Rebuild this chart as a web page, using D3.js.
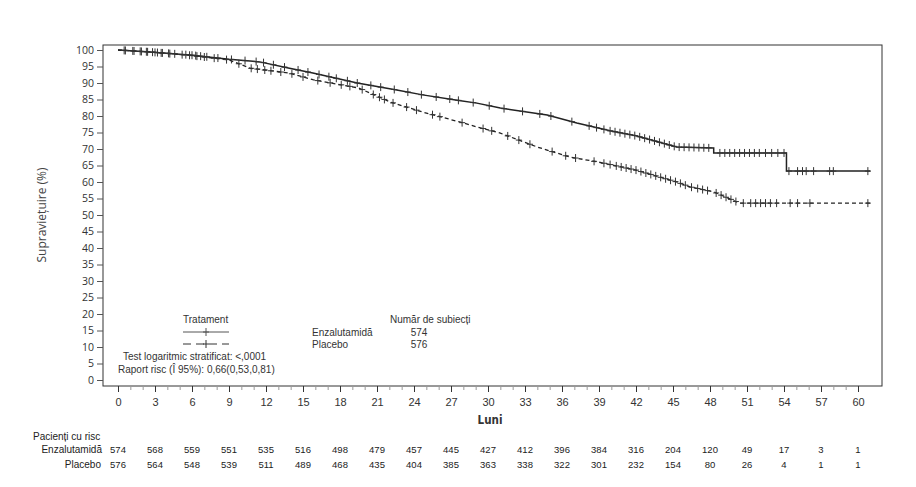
<!DOCTYPE html>
<html>
<head>
<meta charset="utf-8">
<script src="https://cdn.jsdelivr.net/npm/d3@7"></script>
<style>
  body { margin: 0; background: #fff; }
  svg { display: block; font-family: "Liberation Sans Narrow", "DejaVu Sans Condensed", "Open Sans", sans-serif; }
</style>
</head>
<body>
<div id="chart"></div>
<script>
// Kaplan-Meier curves: [month, survival %]
const enzCurve = [
  [0, 100], [2.6, 99.4], [5.8, 98.5], [9, 97.2], [11.5, 96.4], [13.9, 94.5],
  [15.8, 93], [19.4, 90], [22.6, 87.9], [24.7, 86.4], [27.5, 84.8], [29.1, 83.9],
  [31, 82.4], [34.8, 80.3], [37.2, 77.9], [39.9, 75.5], [42, 74], [45.3, 70.6],
  [48.3, 70.3], [48.3, 68.8], [54.2, 68.8], [54.2, 63.3], [61, 63.3]
];
const placeboCurve = [
  [0, 100], [2.6, 99.4], [5.8, 98.4], [9, 97], [10.7, 94.5], [13.9, 93],
  [15.8, 91], [19.5, 88.5], [22.1, 84.2], [24.7, 81.2], [27.7, 78.2], [29.1, 76.7],
  [31, 74.8], [34, 70.6], [36.6, 67.6], [39, 66], [42, 63.6], [45.3, 60],
  [46.4, 58.5], [48.3, 57], [50.4, 53.6], [61, 53.6]
];

// censored observations (months)
const enzCensor = [0.5, 1.2, 1.8, 2.3, 2.8, 3.2, 3.6, 4.1, 4.6, 5.5, 6, 6.3, 6.7, 7.2, 8.1, 9.2, 10.3,
  11.2, 11.8, 12.6, 13.5, 14.6, 15.4, 16.3, 17.1, 17.7, 18.6, 19.4, 20.5, 21.3, 22.4, 23.5, 24.6,
  25.8, 26.9, 27.6, 28.8, 30.1, 31.3, 32.8, 34.2, 35.1, 36.8, 38.2, 38.8, 39.4, 39.9, 40.3, 40.7,
  41.1, 41.5, 41.9, 42.3, 42.7, 43.1, 43.5, 43.9, 44.3, 44.7, 45.1, 45.5, 45.9, 46.3, 46.7, 47.1,
  47.5, 47.9, 48.8, 49.2, 49.6, 50, 50.4, 50.8, 51.2, 51.6, 52, 52.5, 53, 53.5, 54,
  54.4, 55.1, 55.5, 55.8, 56.4, 57.7, 58, 60.8];
const placeboCensor = [0.6, 1.3, 1.9, 2.4, 3, 3.5, 4.2, 5.2, 5.8, 6.4, 7, 7.8, 8.8, 9.8, 10.8,
  11.3, 11.9, 12.4, 13.2, 14.1, 15, 16.2, 17.2, 18.1, 18.8, 19.8, 20.7, 21.2, 21.6, 22.3, 23.4,
  24.2, 25.5, 26.1, 27.9, 29.6, 30.3, 31.6, 32.5, 33.4, 35.2, 36.3, 37.1, 38.6, 39.4, 39.9, 40.4,
  40.8, 41.2, 41.6, 42, 42.4, 42.8, 43.2, 43.6, 44, 44.4, 44.8, 45.2, 45.6, 46, 46.5, 47, 47.4,
  47.8, 48.5, 48.9, 49.3, 49.7, 50.1, 50.7, 51.3, 51.7, 52.1, 52.5, 52.9, 53.4, 54.5, 55.1,
  56.1, 60.8];

const riskMonths = d3.range(0, 61, 3);
const riskEnz = [574, 568, 559, 551, 535, 516, 498, 479, 457, 445, 427, 412, 396, 384, 316, 204, 120, 49, 17, 3, 1];
const riskPlacebo = [576, 564, 548, 539, 511, 489, 468, 435, 404, 385, 363, 338, 322, 301, 232, 154, 80, 26, 4, 1, 1];

const yTicks = d3.range(0, 101, 5);
const xTicks = d3.range(0, 61, 3);

const W = 916, H = 487;
const svg = d3.select("#chart").append("svg").attr("width", W).attr("height", H);

const frame = { left: 103, top: 45, right: 882, bottom: 386 };
const x = d3.scaleLinear().domain([0, 60]).range([118, 858]);
const y = d3.scaleLinear().domain([0, 100]).range([380, 50]);
const ink = "#222";
const textFont = "'Liberation Sans', Arial, sans-serif";

// frame
svg.append("rect")
  .attr("x", frame.left).attr("y", frame.top)
  .attr("width", frame.right - frame.left).attr("height", frame.bottom - frame.top)
  .attr("fill", "none").attr("stroke", "#333").attr("stroke-width", 1);

// y axis
const yAxis = svg.append("g")
  .attr("transform", `translate(${frame.left},0)`)
  .call(d3.axisLeft(y).tickValues(yTicks).tickSize(6).tickPadding(3));
yAxis.select(".domain").remove();
yAxis.selectAll("line").attr("stroke", "#555");
yAxis.selectAll("text").attr("fill", "#333")
  .style("font-family", "'Open Sans', sans-serif").style("font-size", "10.5px");

// x axis: minor monthly ticks plus major ticks every 3
const xMinor = svg.append("g")
  .attr("transform", `translate(0,${frame.bottom})`)
  .call(d3.axisBottom(x).tickValues(d3.range(0, 61, 1).filter(d => d % 3 !== 0)).tickSize(4).tickFormat(""));
xMinor.select(".domain").remove();
xMinor.selectAll("line").attr("stroke", "#999");

const xAxis = svg.append("g")
  .attr("transform", `translate(0,${frame.bottom})`)
  .call(d3.axisBottom(x).tickValues(xTicks).tickSize(6).tickPadding(6));
xAxis.select(".domain").remove();
xAxis.selectAll("line").attr("stroke", "#333");
xAxis.selectAll("text").style("font-size", "11px").attr("fill", "#333");

svg.append("text")
  .attr("x", 490).attr("y", 424)
  .attr("text-anchor", "middle")
  .style("font-size", "11.5px").style("font-weight", "bold").attr("fill", "#333")
  .text("Luni");

svg.append("text")
  .attr("transform", `translate(46,${y(50)}) rotate(-90)`)
  .attr("text-anchor", "middle")
  .style("font-family", "'Open Sans', sans-serif")
  .style("font-size", "12px").attr("fill", "#444")
  .text("Supraviețuire (%)");

// curves
const line = d3.line().x(d => x(d[0])).y(d => y(d[1]));
svg.append("path").datum(placeboCurve)
  .attr("d", line).attr("fill", "none")
  .attr("stroke", ink).attr("stroke-width", 1.3).attr("stroke-dasharray", "4,3");
svg.append("path").datum(enzCurve)
  .attr("d", line).attr("fill", "none")
  .attr("stroke", ink).attr("stroke-width", 1.5);

// value of a curve at month t (for placing censor marks on it)
function survAt(curve, t) {
  let v = curve[0][1];
  for (let i = 1; i < curve.length; i++) {
    const [t0, v0] = curve[i - 1], [t1, v1] = curve[i];
    if (t >= t1) { v = v1; continue; }
    if (t >= t0) { v = t1 === t0 ? v1 : v0 + (v1 - v0) * (t - t0) / (t1 - t0); }
    break;
  }
  return v;
}

function plus(g, cx, cy, color) {
  g.append("path")
    .attr("d", `M${cx - 3},${cy}H${cx + 3}M${cx},${cy - 4}V${cy + 4}`)
    .attr("stroke", color).attr("stroke-width", 1).attr("fill", "none");
}

const marks = svg.append("g");
placeboCensor.forEach(t => plus(marks, x(t), y(survAt(placeboCurve, t)), "#333"));
enzCensor.forEach(t => plus(marks, x(t), y(survAt(enzCurve, t)), "#333"));

// legend
const leg = svg.append("g").style("font-family", textFont).style("font-size", "10px").attr("fill", "#333");
leg.append("text").attr("x", 183).attr("y", 323).text("Tratament");
leg.append("line").attr("x1", 183).attr("x2", 229).attr("y1", 332).attr("y2", 332)
  .attr("stroke", "#555").attr("stroke-width", 1);
plus(leg, 206, 332, "#555");
leg.append("line").attr("x1", 183).attr("x2", 229).attr("y1", 344).attr("y2", 344)
  .attr("stroke", "#333").attr("stroke-width", 1).attr("stroke-dasharray", "8,5");
plus(leg, 206, 344, "#333");
leg.append("text").attr("x", 312).attr("y", 336).text("Enzalutamidă");
leg.append("text").attr("x", 312).attr("y", 348).text("Placebo");
leg.append("text").attr("x", 390).attr("y", 323).text("Număr de subiecți");
leg.append("text").attr("x", 419).attr("y", 336).attr("text-anchor", "middle").text(riskEnz[0]);
leg.append("text").attr("x", 419).attr("y", 348).attr("text-anchor", "middle").text(riskPlacebo[0]);
leg.append("text").attr("x", 123).attr("y", 360).text("Test logaritmic stratificat: <,0001");
leg.append("text").attr("x", 118).attr("y", 372.5).text("Raport risc (Î 95%): 0,66(0,53,0,81)");

// number at risk table
const tbl = svg.append("g").style("font-family", textFont).style("font-size", "10px").attr("fill", "#222");
tbl.append("text").attr("x", 33).attr("y", 440).text("Pacienți cu risc");
tbl.append("text").attr("x", 102).attr("y", 453).attr("text-anchor", "end").text("Enzalutamidă");
tbl.append("text").attr("x", 101).attr("y", 468).attr("text-anchor", "end").text("Placebo");
tbl.selectAll(".re").data(riskEnz).join("text")
  .attr("x", (d, i) => x(riskMonths[i])).attr("y", 453)
  .attr("text-anchor", "middle").style("font-size", "9.5px").text(d => d);
tbl.selectAll(".rp").data(riskPlacebo).join("text")
  .attr("x", (d, i) => x(riskMonths[i])).attr("y", 468)
  .attr("text-anchor", "middle").style("font-size", "9.5px").text(d => d);
</script>
</body>
</html>
